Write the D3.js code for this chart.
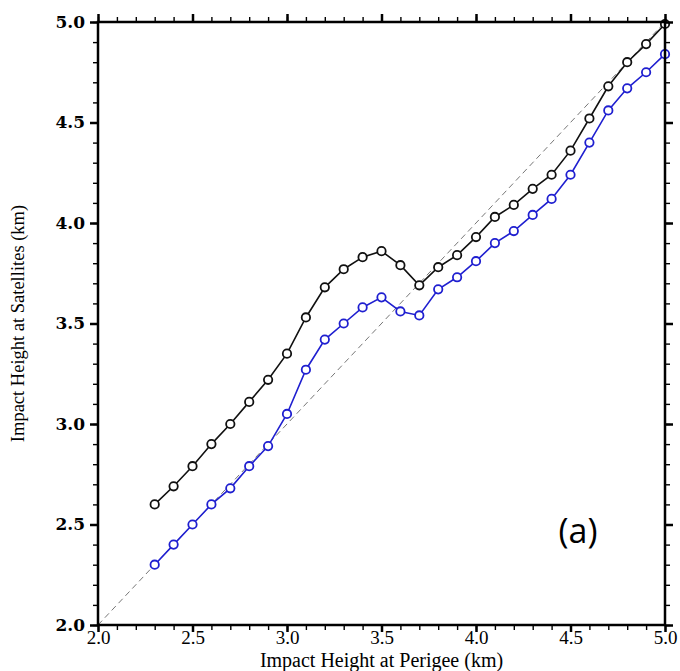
<!DOCTYPE html>
<html>
<head>
<meta charset="utf-8">
<script src="https://cdn.jsdelivr.net/npm/d3@7"></script>
<style>
  body { margin: 0; background: #fff; }
</style>
</head>
<body>
<div id="chart"></div>
<script>
// impact height at perigee (km)
const perigee = [2.3, 2.4, 2.5, 2.6, 2.7, 2.8, 2.9, 3.0, 3.1, 3.2, 3.3, 3.4, 3.5, 3.6,
                 3.7, 3.8, 3.9, 4.0, 4.1, 4.2, 4.3, 4.4, 4.5, 4.6, 4.7, 4.8, 4.9, 5.0];
// impact height at satellites, black curve
const blackSeries = [2.60, 2.69, 2.79, 2.90, 3.00, 3.11, 3.22, 3.35, 3.53, 3.68, 3.77, 3.83, 3.86, 3.79,
                     3.69, 3.78, 3.84, 3.93, 4.03, 4.09, 4.17, 4.24, 4.36, 4.52, 4.68, 4.80, 4.89, 4.99];
// impact height at satellites, blue curve
const blueSeries = [2.30, 2.40, 2.50, 2.60, 2.68, 2.79, 2.89, 3.05, 3.27, 3.42, 3.50, 3.58, 3.63, 3.56,
                    3.54, 3.67, 3.73, 3.81, 3.90, 3.96, 4.04, 4.12, 4.24, 4.40, 4.56, 4.67, 4.75, 4.84];
const tickValues = [2.0, 2.5, 3.0, 3.5, 4.0, 4.5, 5.0];
const minorTicks = d3.range(20, 51).map(d => d / 10);

const config = {
    width: 680, height: 671,
    margin: {top: 22, right: 15, bottom: 46, left: 98}
};
const width = config.width - config.margin.left - config.margin.right;
const height = config.height - config.margin.top - config.margin.bottom;

const svg = d3.select('#chart').append('svg')
    .attr('width', config.width)
    .attr('height', config.height);

const chart = svg.append('g')
    .attr('transform', `translate(${config.margin.left},${config.margin.top})`);

const xScale = d3.scaleLinear().domain([2, 5]).range([0, width]);
const yScale = d3.scaleLinear().domain([2, 5]).range([height, 0]);

// 1:1 reference line
chart.append('line')
    .attr('x1', xScale(2)).attr('y1', yScale(2))
    .attr('x2', xScale(5)).attr('y2', yScale(5))
    .attr('stroke', '#777')
    .attr('stroke-width', 1)
    .attr('stroke-dasharray', '6,4');

const series = [
    {name: 'black', color: '#111', values: blackSeries},
    {name: 'blue', color: '#1f1fd0', values: blueSeries}
];

const line = d3.line()
    .x(d => xScale(d[0]))
    .y(d => yScale(d[1]));

series.forEach(s => {
    const pts = perigee.map((x, i) => [x, s.values[i]]);
    chart.append('path')
        .datum(pts)
        .attr('fill', 'none')
        .attr('stroke', s.color)
        .attr('stroke-width', 1.6)
        .attr('d', line);
    chart.selectAll('.pt-' + s.name)
        .data(pts)
        .enter().append('circle')
        .attr('class', 'pt-' + s.name)
        .attr('cx', d => xScale(d[0]))
        .attr('cy', d => yScale(d[1]))
        .attr('r', 4.2)
        .attr('fill', '#fff')
        .attr('stroke', s.color)
        .attr('stroke-width', 1.8);
});

// frame
chart.append('rect')
    .attr('width', width).attr('height', height)
    .attr('fill', 'none')
    .attr('stroke', '#000')
    .attr('stroke-width', 2.5);

// major/minor ticks on all four sides (outward)
function addAxis(axisFn, scale, transform, size, pad) {
    const minor = chart.append('g')
        .attr('transform', transform)
        .call(axisFn(scale).tickValues(minorTicks).tickSize(5).tickFormat(''));
    minor.select('.domain').remove();
    minor.selectAll('line').attr('stroke-width', 1.4);
    const major = chart.append('g')
        .attr('transform', transform)
        .call(axisFn(scale).tickValues(tickValues).tickSize(size).tickPadding(pad)
            .tickFormat(pad != null ? d3.format('.1f') : ''));
    major.select('.domain').remove();
    major.selectAll('line').attr('stroke-width', 2.5);
    return major;
}

const xAxisG = addAxis(d3.axisBottom, xScale, `translate(0,${height})`, 7, -1);
xAxisG.selectAll('text')
    .attr('font-family', '"Liberation Serif", serif')
    .attr('font-size', 19)
    .attr('fill', '#000');

const yAxisG = addAxis(d3.axisLeft, yScale, 'translate(0,0)', 8, 5);
yAxisG.selectAll('text')
    .attr('font-family', '"DejaVu Serif", serif')
    .attr('font-weight', 'bold')
    .attr('font-size', 17)
    .attr('fill', '#000');

addAxis(d3.axisTop, xScale, 'translate(0,0)', 8, null);
addAxis(d3.axisRight, yScale, `translate(${width},0)`, 8, null);

// axis titles
svg.append('text')
    .attr('x', config.margin.left + width / 2)
    .attr('y', 667)
    .attr('text-anchor', 'middle')
    .attr('font-family', '"Liberation Serif", serif')
    .attr('font-size', 20)
    .text('Impact Height at Perigee (km)');

svg.append('text')
    .attr('transform', `translate(24,${config.margin.top + height / 2}) rotate(-90)`)
    .attr('text-anchor', 'middle')
    .attr('font-family', '"Liberation Serif", serif')
    .attr('font-size', 18.5)
    .text('Impact Height at Satellites (km)');

// panel label
chart.append('text')
    .attr('x', xScale(4.54))
    .attr('y', yScale(2.41))
    .attr('text-anchor', 'middle')
    .attr('font-family', '"Open Sans", sans-serif')
    .attr('font-size', 34)
    .text('(a)');
</script>
</body>
</html>
